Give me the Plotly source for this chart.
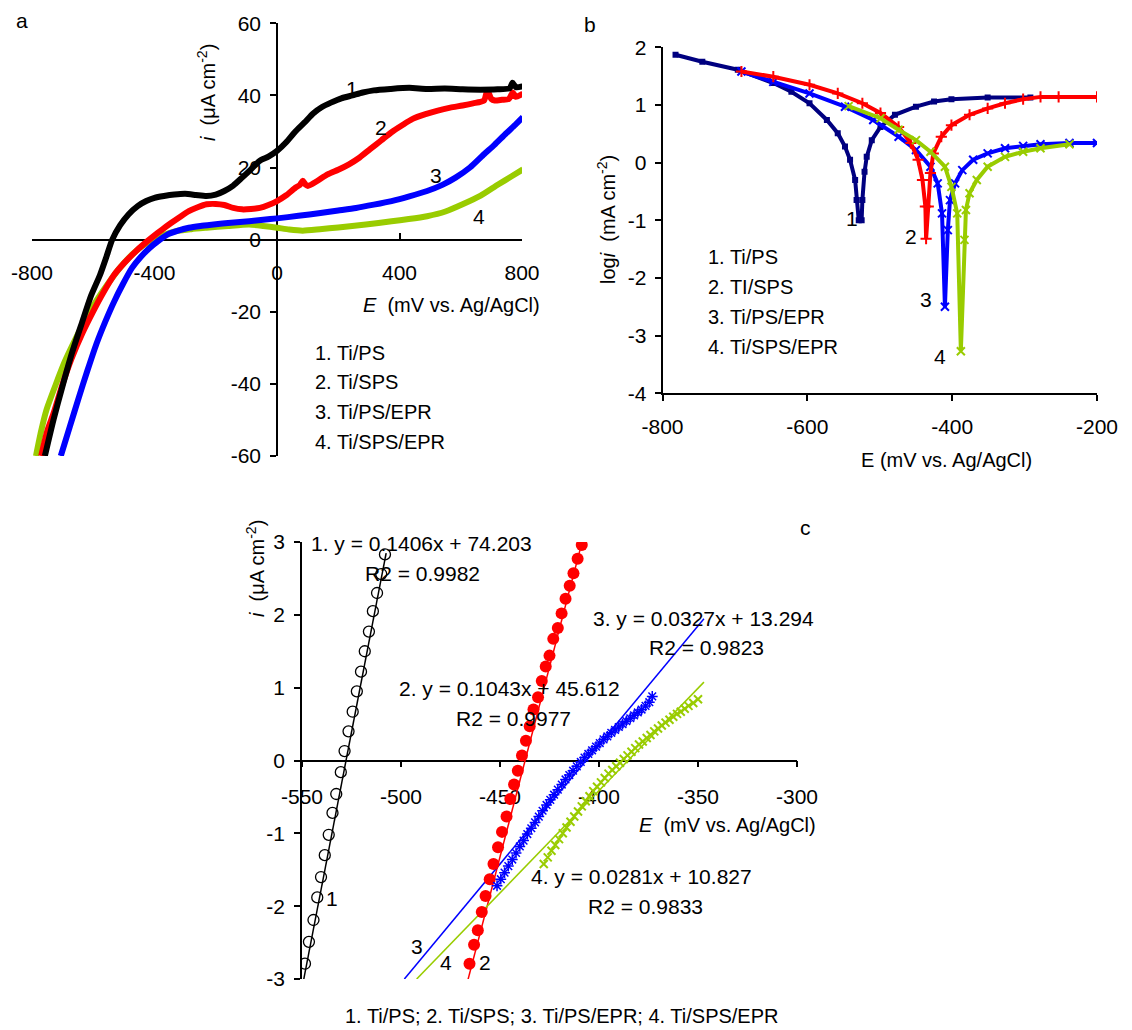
import plotly.graph_objects as go

# ---------------- Panel a: current vs potential ----------------
a_E1 = [-758, -730, -700, -668, -636, -607, -578, -558, -538, -512, -485, -455, -427, -400, -369, -335, -300, -265, -230, -200, -172, -143, -114, -85, -56, -28, 0, 30, 60, 90, 118, 147, 176, 210, 246, 280, 316, 370, 432, 490, 548, 606, 664, 720, 760, 769, 780, 803]
a_i1 = [-60, -50, -40.5, -31, -22.8, -15.5, -9.8, -5, 0, 4, 7, 9.3, 10.7, 11.6, 12.1, 12.5, 12.7, 12.4, 12.1, 12.5, 13.5, 15, 17.2, 19.5, 21.9, 23, 24.6, 27, 30, 32.5, 35, 36.8, 38, 39.2, 40, 40.8, 41.4, 41.8, 42.1, 41.8, 41.9, 41.7, 41.6, 41.7, 42, 43.5, 42.3, 42.5]
a_E2 = [-770, -750, -729, -700, -671, -636, -601, -566, -532, -497, -462, -433, -404, -375, -346, -317, -288, -259, -230, -200, -172, -143, -114, -85, -56, -28, 0, 30, 60, 75, 84, 93, 101, 130, 165, 200, 235, 270, 304, 340, 374, 410, 443, 485, 525, 566, 606, 640, 676, 687, 700, 711, 735, 757, 770, 780, 803]
a_i2 = [-60, -53, -48, -40, -33, -26, -20, -14.5, -9.8, -6.3, -3.3, -1.1, 0.9, 2.8, 4.6, 6.3, 7.9, 9, 9.8, 9.9, 9.6, 8.8, 8.4, 8.5, 8.8, 9.6, 10.7, 12.3, 14.4, 15.2, 16.3, 15.3, 14.9, 16.2, 18.1, 19.4, 20.9, 22.8, 25.1, 27.5, 29.8, 31.8, 33.5, 34.8, 35.8, 36.6, 37.2, 37.8, 38.6, 41.4, 39, 38.6, 38.8, 39, 40.8, 39.6, 40.5]
a_E3 = [-706, -677, -648, -619, -590, -561, -532, -503, -474, -445, -416, -387, -358, -323, -288, -250, -207, -150, -91, -45, 0, 70, 142, 200, 258, 316, 374, 432, 490, 540, 583, 630, 676, 710, 746, 775, 803]
a_i3 = [-60, -52, -44, -36.3, -29, -22.8, -17.2, -12.3, -7.9, -4.8, -2.3, -0.3, 1.4, 2.5, 3.3, 3.8, 4.2, 4.7, 5.1, 5.5, 5.9, 6.6, 7.4, 8.1, 8.8, 9.7, 10.7, 12, 13.5, 15.2, 17.2, 20, 23.7, 26.3, 29.3, 31.6, 34]
a_E4 = [-787, -770, -752, -723, -694, -659, -624, -590, -555, -515, -474, -440, -404, -370, -334, -280, -230, -160, -91, -45, 0, 40, 84, 140, 200, 290, 374, 430, 490, 550, 606, 665, 722, 765, 803]
a_i4 = [-60, -53, -47, -40.3, -34, -27.7, -21.9, -17, -12.6, -8, -4.2, -1.8, 0, 1.3, 2.3, 2.9, 3.3, 3.8, 4.2, 3.8, 3.3, 2.8, 2.5, 2.9, 3.4, 4.2, 5.1, 5.7, 6.5, 7.8, 9.8, 12.2, 15.3, 17.5, 19.5]

# ---------------- Panel b: Tafel plots ----------------
b_E1 = [-782, -745, -696, -647, -622, -597, -573, -558, -548, -541, -534, -532, -529, -525, -524, -521, -518, -511, -499, -479, -450, -425, -401, -351, -292]
b_L1 = [1.87, 1.75, 1.61, 1.38, 1.23, 1.03, 0.74, 0.51, 0.28, 0.05, -0.30, -0.65, -1.0, -1.0, -0.65, -0.16, 0.10, 0.39, 0.62, 0.83, 0.97, 1.06, 1.10, 1.13, 1.13]
b_E2 = [-691, -647, -597, -558, -524, -499, -474, -457, -447, -441, -437, -436, -433, -430, -426, -415, -401, -376, -351, -327, -302, -278, -253, -200]
b_L2 = [1.58, 1.49, 1.35, 1.20, 1.03, 0.86, 0.62, 0.34, 0.05, -0.30, -0.76, -1.32, -0.76, -0.18, 0.16, 0.45, 0.65, 0.83, 0.94, 1.03, 1.10, 1.14, 1.14, 1.14]
b_E3 = [-691, -647, -597, -548, -509, -474, -450, -430, -420, -414, -410, -406, -403, -396, -386, -371, -351, -327, -302, -278, -238, -200]
b_L3 = [1.58, 1.40, 1.20, 0.97, 0.74, 0.45, 0.22, -0.07, -0.36, -0.88, -2.5, -1.17, -0.65, -0.36, -0.13, 0.05, 0.16, 0.25, 0.29, 0.32, 0.34, 0.34]
b_E4 = [-543, -499, -474, -450, -430, -410, -401, -393, -388, -383, -381, -376, -366, -351, -327, -302, -278, -238]
b_L4 = [0.98, 0.77, 0.57, 0.39, 0.19, -0.07, -0.42, -0.88, -3.27, -1.34, -0.82, -0.53, -0.30, -0.07, 0.10, 0.19, 0.25, 0.32]

# ---------------- Panel c: linear polarization ----------------
c_E1 = [-548.5, -546.5, -544.2, -542.3, -540.4, -538.5, -536.5, -534.6, -532.7, -530.4, -528.5, -526.5, -524.4, -522.3, -520.2, -518.3, -516.2, -514.2, -512.1, -510.0, -508.1]
c_i1 = [-2.79, -2.49, -2.19, -1.88, -1.60, -1.30, -1.02, -0.72, -0.46, -0.16, 0.13, 0.40, 0.67, 0.95, 1.22, 1.50, 1.77, 2.05, 2.30, 2.56, 2.83]
c_E2 = [-465.4, -463.1, -461.2, -459.2, -457.3, -455.2, -453.3, -451.0, -449.0, -446.7, -444.8, -442.9, -441.0, -438.9, -436.9, -435.0, -433.1, -430.8, -428.9, -426.9, -425.0, -423.1, -420.8, -418.9, -416.9, -414.8, -412.9, -410.8, -408.7]
c_i2 = [-2.79, -2.53, -2.33, -2.08, -1.86, -1.63, -1.42, -1.19, -0.98, -0.77, -0.53, -0.33, -0.14, 0.07, 0.27, 0.47, 0.70, 0.87, 1.09, 1.29, 1.44, 1.67, 1.82, 2.02, 2.22, 2.40, 2.57, 2.77, 2.96]
c_E3 = [-451.5, -449.6, -447.7, -445.8, -443.8, -441.9, -440.0, -438.1, -436.2, -434.2, -432.3, -430.4, -428.5, -426.5, -424.6, -422.7, -420.8, -418.8, -416.9, -415.0, -413.1, -411.2, -409.2, -407.3, -405.4, -403.5, -401.5, -399.6, -397.7, -395.8, -393.8, -391.9, -390.0, -388.1, -386.2, -384.2, -382.3, -380.4, -378.5, -376.5, -374.6, -373.1]
c_i3 = [-1.72, -1.63, -1.54, -1.45, -1.36, -1.27, -1.18, -1.10, -1.01, -0.93, -0.85, -0.77, -0.69, -0.61, -0.54, -0.47, -0.40, -0.33, -0.26, -0.20, -0.14, -0.08, -0.02, 0.04, 0.09, 0.14, 0.19, 0.24, 0.29, 0.33, 0.38, 0.42, 0.46, 0.50, 0.54, 0.58, 0.62, 0.66, 0.70, 0.75, 0.80, 0.88]
c_E4 = [-427.9, -425.9, -424.0, -422.1, -420.2, -418.3, -416.4, -414.4, -412.5, -410.6, -408.7, -406.7, -404.8, -402.9, -401.0, -399.0, -397.1, -395.2, -393.3, -391.3, -389.4, -387.5, -385.6, -383.6, -381.7, -379.8, -377.9, -375.9, -374.0, -372.1, -370.2, -368.3, -366.4, -364.4, -362.5, -360.6, -358.7, -356.7, -354.8, -352.4, -350.0]
c_i4 = [-1.42, -1.33, -1.24, -1.16, -1.08, -1.00, -0.92, -0.84, -0.77, -0.70, -0.63, -0.56, -0.49, -0.42, -0.36, -0.30, -0.24, -0.18, -0.13, -0.08, -0.03, 0.02, 0.07, 0.12, 0.17, 0.22, 0.26, 0.31, 0.35, 0.40, 0.44, 0.48, 0.52, 0.56, 0.60, 0.64, 0.67, 0.71, 0.75, 0.79, 0.84]

# linear fits (slope, intercept) and the E range over which the fit line is drawn
fit_slope = [0.1406, 0.1043, 0.0327, 0.0281]
fit_icpt = [74.203, 45.612, 13.294, 10.827]
fit_E0 = [-549.1, -466.1, -498.3, -492.1]
fit_E1 = [-507.5, -409.0, -347.0, -347.0]
fit_text = ["1. y = 0.1406x + 74.203", "2. y = 0.1043x + 45.612", "3. y = 0.0327x + 13.294", "4. y = 0.0281x + 10.827"]
r2_text = ["R2 = 0.9982", "R2 = 0.9977", "R2 = 0.9823", "R2 = 0.9833"]

# tick labels
a_xticks = [-800, -400, 0, 400, 800]
a_yticks = [-60, -40, -20, 0, 20, 40, 60]
b_xticks = [-800, -600, -400, -200]
b_yticks = [-4, -3, -2, -1, 0, 1, 2]
c_xticks = [-550, -500, -450, -400, -350, -300]
c_yticks = [-3, -2, -1, 0, 1, 2, 3]

legend_lines_a = ["1. Ti/PS", "2. Ti/SPS", "3. Ti/PS/EPR", "4. Ti/SPS/EPR"]
legend_lines_b = ["1. Ti/PS", "2. TI/SPS", "3. Ti/PS/EPR", "4. Ti/SPS/EPR"]
caption = "1. Ti/PS; 2. Ti/SPS; 3. Ti/PS/EPR; 4. Ti/SPS/EPR"

FONT = "Liberation Sans, Arial, sans-serif"
FS = 20
BLACK = "#000000"
RED = "#ff0000"
BLUE = "#0000ff"
GREEN = "#99cc00"
NAVY = "#000080"

fig = go.Figure()

# panel a
for E, I, col in [(a_E4, a_i4, GREEN), (a_E3, a_i3, BLUE), (a_E2, a_i2, RED), (a_E1, a_i1, BLACK)]:
    fig.add_trace(go.Scatter(x=E, y=I, mode="lines", line=dict(color=col, width=6, shape="spline", smoothing=0.6),
                             xaxis="x", yaxis="y", showlegend=False))

# panel b
fig.add_trace(go.Scatter(x=b_E1, y=b_L1, mode="lines+markers", line=dict(color=BLACK, width=1.5),
                         marker=dict(symbol="square", size=6, color=NAVY),
                         xaxis="x2", yaxis="y2", showlegend=False))
fig.add_trace(go.Scatter(x=b_E1, y=b_L1, mode="lines", line=dict(color=NAVY, width=4),
                         xaxis="x2", yaxis="y2", showlegend=False, hoverinfo="skip"))
for E, L, col, sym in [(b_E3, b_L3, BLUE, "x-thin-open"), (b_E2, b_L2, RED, "cross-thin-open"), (b_E4, b_L4, GREEN, "x-thin-open")]:
    fig.add_trace(go.Scatter(x=E, y=L, mode="lines+markers", line=dict(color=col, width=4),
                             marker=dict(symbol=sym, size=8, color=col, line=dict(color=col, width=2)),
                             xaxis="x2", yaxis="y2", showlegend=False))

# panel c - fit lines
fit_cols = [BLACK, RED, BLUE, GREEN]
for k in range(4):
    xs = [fit_E0[k], fit_E1[k]]
    ys = [fit_slope[k] * v + fit_icpt[k] for v in xs]
    fig.add_trace(go.Scatter(x=xs, y=ys, mode="lines", line=dict(color=fit_cols[k], width=1.5),
                             xaxis="x3", yaxis="y3", showlegend=False))
# panel c - data
fig.add_trace(go.Scatter(x=c_E1, y=c_i1, mode="markers",
                         marker=dict(symbol="circle-open", size=11, color=BLACK, line=dict(width=1.3, color=BLACK)),
                         xaxis="x3", yaxis="y3", showlegend=False))
fig.add_trace(go.Scatter(x=c_E2, y=c_i2, mode="markers",
                         marker=dict(symbol="circle", size=12, color=RED),
                         xaxis="x3", yaxis="y3", showlegend=False))
fig.add_trace(go.Scatter(x=c_E3, y=c_i3, mode="markers",
                         marker=dict(symbol="asterisk-open", size=9, color=BLUE, line=dict(width=1.5, color=BLUE)),
                         xaxis="x3", yaxis="y3", showlegend=False))
fig.add_trace(go.Scatter(x=c_E4, y=c_i4, mode="markers",
                         marker=dict(symbol="x-thin-open", size=8, color=GREEN, line=dict(width=2, color=GREEN)),
                         xaxis="x3", yaxis="y3", showlegend=False))

# the page places the figure 8 px from the top-left corner (default body margin)
OFF = 8
W, H = 1132 - OFF, 1030 - OFF
def px(v):
    return (v - OFF) / W
def py(v):
    return 1 - (v - OFF) / H

tickfont = dict(family=FONT, size=21, color=BLACK)
common = dict(showgrid=False, zeroline=False, showline=True, linecolor=BLACK, linewidth=1.5,
              tickcolor=BLACK, tickwidth=1.5, ticklen=6, tickfont=tickfont, automargin=False)

def tk(vals):
    return dict(tickmode="array", tickvals=vals, ticktext=[str(v) for v in vals])

a_xdom = [px(32), px(522)]
a_ydom = [py(456), py(23.3)]
b_xdom = [px(662.5), px(1097)]
b_ydom = [py(393.3), py(47.3)]
c_xdom = [px(302), px(797)]
c_ydom = [py(979), py(542)]

fig.update_layout(
    width=W, height=H, margin=dict(l=0, r=0, t=0, b=0, pad=0), autosize=False,
    paper_bgcolor="white", plot_bgcolor="rgba(0,0,0,0)",
    font=dict(family=FONT, size=FS, color=BLACK),
    xaxis=dict(domain=a_xdom, range=[-800, 800], anchor="free", position=(a_ydom[0] + a_ydom[1]) / 2,
               ticks="inside", ticklabelstandoff=14, layer="below traces", **tk(a_xticks), **common),
    yaxis=dict(domain=a_ydom, range=[-60, 60], anchor="free", position=(a_xdom[0] + a_xdom[1]) / 2,
               ticks="outside", ticklabelstandoff=5, layer="below traces", **tk(a_yticks), **common),
    xaxis2=dict(domain=b_xdom, range=[-800, -200], anchor="y2",
                ticks="outside", ticklabelstandoff=8, **tk(b_xticks), **common),
    yaxis2=dict(domain=b_ydom, range=[-4, 2], anchor="x2",
                ticks="outside", ticklabelstandoff=4, **tk(b_yticks), **common),
    xaxis3=dict(domain=c_xdom, range=[-550, -300], anchor="free", position=(c_ydom[0] + c_ydom[1]) / 2,
                ticks="outside", ticklabelstandoff=12, layer="below traces", **tk(c_xticks), **common),
    yaxis3=dict(domain=c_ydom, range=[-3, 3], anchor="x3",
                ticks="outside", ticklabelstandoff=5, layer="below traces", **tk(c_yticks), **common),
)

ann = []
def A(text, x, y, xref="paper", yref="paper", xanchor="center", yanchor="middle", angle=0, size=FS):
    ann.append(dict(text=text, x=x, y=y, xref=xref, yref=yref, xanchor=xanchor, yanchor=yanchor,
                    textangle=angle, showarrow=False, font=dict(family=FONT, size=size, color=BLACK)))

# panel labels
A("a", px(22), py(20), size=21)
A("b", px(590), py(25), size=21)
A("c", px(805), py(527), size=21)

# axis titles
A("<i>i</i>  (μA cm<sup>-2</sup>)", px(207), py(93), angle=-90)
A("<i>E</i>  (mV vs. Ag/AgCl)", px(542), py(305), xanchor="right")
A("log<i>i</i>  (mA cm<sup>-2</sup>)", px(606), py(220), angle=-90)
A("E (mV vs. Ag/AgCl)", px(946), py(460))
A("<i>i</i>  (μA cm<sup>-2</sup>)", px(255), py(568), angle=-90)
A("<i>E</i>  (mV vs. Ag/AgCl)", px(818), py(825), xanchor="right")

# panel a legend text and curve numbers
for k, t in enumerate(legend_lines_a):
    A(t, 117, -31.3 - 8.3 * k, xref="x", yref="y", xanchor="left")
for t, e, v in [("1", 246, 41.9), ("2", 339, 31.2), ("3", 519, 17.7), ("4", 658, 6.5)]:
    A(t, e, v, xref="x", yref="y", size=21)

# panel b legend text and curve numbers
for k, t in enumerate(legend_lines_b):
    A(t, -740, -1.63 - 0.52 * k, xref="x2", yref="y2", xanchor="left")
for t, e, v in [("1", -538, -0.97), ("2", -457, -1.28), ("3", -436, -2.38), ("4", -417, -3.36)]:
    A(t, e, v, xref="x2", yref="y2", size=21)

# panel c equations
eq_pos = [(-546.5, 2.98), (-501.9, 0.99), (-404.2, 1.95), (-435.6, -1.59)]
r2_pos = [(-519.2, 2.57), (-473.0, 0.58), (-376.0, 1.55), (-406.7, -2.0)]
for k in range(4):
    A(fit_text[k], eq_pos[k][0], eq_pos[k][1], xref="x3", yref="y3", xanchor="left", size=21)
    A(r2_text[k], r2_pos[k][0], r2_pos[k][1], xref="x3", yref="y3", xanchor="left", size=21)
for t, e, v in [("1", -535, -1.9), ("3", -491.7, -2.56), ("4", -477.5, -2.78), ("2", -457.7, -2.78)]:
    A(t, e, v, xref="x3", yref="y3", size=21)

A(caption, px(562), py(1016))

fig.update_layout(annotations=ann)
fig.write_html("out.html")
